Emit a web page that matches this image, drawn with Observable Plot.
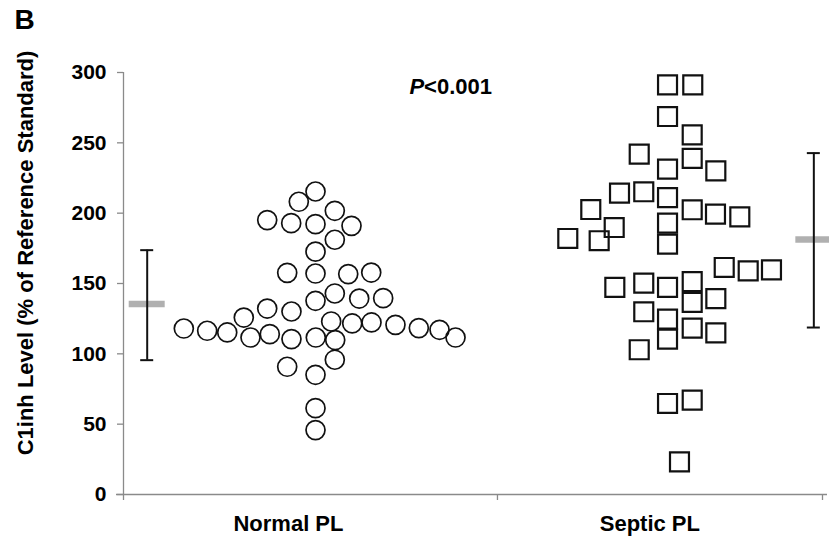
<!DOCTYPE html>
<html>
<head>
<meta charset="utf-8">
<script src="https://cdn.jsdelivr.net/npm/d3@7"></script>
<script src="https://cdn.jsdelivr.net/npm/@observablehq/plot@0.6"></script>
<style>
  html, body { margin: 0; padding: 0; background: #fff; overflow: hidden; }
  #chart svg { display: block; }
</style>
</head>
<body>
<div id="chart"></div>
<script>
// ---- data ----
const categories = ["Normal PL", "Septic PL"];
const categoryPos = [23.6, 75.3];           // position of category label on the 0–100 x scale
const xTicks = [0, 53.5, 100];
const yTicks = [0, 50, 100, 150, 200, 250, 300];
const yLabel = "C1inh Level (% of Reference Standard)";
const panelLabel = "B";
const pLabelItalic = "P";
const pLabelRest = "<0.001";
const pLabelX = 43.0;
const pLabelY = 289.6;

// Normal PL: C1inh level and horizontal (swarm) position
const normalLevel = [215.4, 208.1, 201.7, 195.1, 192.9, 192.2, 191.0, 181.1, 172.7, 157.6,
  157.1, 156.7, 157.8, 142.9, 137.7, 139.3, 139.6, 132.2, 130.1, 125.8,
  123.0, 121.6, 122.3, 118.0, 116.4, 115.2, 111.6, 114.0, 110.5, 111.6,
  109.8, 120.6, 118.3, 117.1, 111.6, 95.8, 90.8, 85.1, 61.4, 45.8];
const normalX = [27.47, 25.08, 30.23, 20.56, 23.99, 27.47, 32.62, 30.23, 27.47, 23.42,
  27.47, 32.15, 35.44, 30.23, 27.47, 33.72, 37.15, 20.56, 24.03, 17.21,
  29.71, 32.72, 35.48, 8.63, 11.97, 14.84, 18.17, 20.93, 24.03, 27.51,
  30.29, 38.91, 42.25, 45.21, 47.50, 30.23, 23.42, 27.47, 27.47, 27.47];

// Septic PL
const septicLevel = [291.2, 291.2, 268.7, 255.7, 242.0, 238.9, 231.3, 230.1, 214.3, 215.2,
  211.1, 202.4, 199.3, 197.4, 202.6, 189.8, 192.9, 178.0, 182.0, 180.4,
  161.4, 159.0, 159.7, 147.2, 150.3, 147.2, 151.4, 136.5, 139.3, 129.9,
  124.7, 110.5, 118.3, 114.9, 102.9, 64.7, 67.1, 23.2];
const septicX = [77.83, 81.44, 77.83, 81.36, 73.78, 81.36, 77.83, 84.74, 70.96, 74.43,
  77.83, 81.36, 84.69, 88.17, 66.85, 70.20, 77.83, 77.83, 63.56, 68.05,
  85.94, 89.37, 92.70, 70.29, 74.43, 77.83, 81.36, 81.36, 84.74, 74.43,
  77.83, 77.83, 81.36, 84.74, 73.78, 77.83, 81.36, 79.54];

// mean ± SD summary bars
const statX = [3.39, 98.76];
const statMean = [135.4, 181.3];
const statLow = [95.5, 118.7];
const statHigh = [173.7, 242.7];

// ---- build tables ----
const normal = normalLevel.map((v, i) => ({x: normalX[i], y: v}));
const septic = septicLevel.map((v, i) => ({x: septicX[i], y: v}));
const stats = statX.map((x, i) => ({x, mean: statMean[i], low: statLow[i], high: statHigh[i]}));
const cats = categories.map((c, i) => ({name: c, x: categoryPos[i]}));

const font = "'Liberation Sans', Arial, Helvetica, sans-serif";
const axisGray = "#8a8a8a";

const chart = Plot.plot({
  width: 829,
  height: 536,
  marginLeft: 123,
  marginRight: 7,
  marginTop: 72,
  marginBottom: 42,
  style: {fontFamily: font, background: "#fff"},
  x: {domain: [0, 100], axis: null},
  y: {domain: [0, 300], axis: null},
  marks: [
    // axes lines
    Plot.ruleX([0], {stroke: axisGray, strokeWidth: 1.3}),
    Plot.ruleY([0], {stroke: axisGray, strokeWidth: 1.3, insetLeft: -7, insetRight: -5}),
    Plot.axisY(yTicks, {tickSize: 6, tickPadding: 11, stroke: axisGray, fill: "black",
      fontSize: 21, fontWeight: "bold", label: null, strokeWidth: 1.3}),
    Plot.axisX(xTicks, {tickSize: 6, tickFormat: () => "", stroke: axisGray, label: null, strokeWidth: 1.3}),
    // category labels
    Plot.text(cats, {x: "x", text: "name", frameAnchor: "bottom", textAnchor: "middle", lineAnchor: "top", dy: 21,
      fontSize: 22, fontWeight: "bold", fill: "black"}),
    // y label
    Plot.text([yLabel], {text: d => d, frameAnchor: "left", textAnchor: "middle", lineAnchor: "middle",
      rotate: -90, dx: -98, dy: -30.5, fontSize: 22, fontWeight: "bold", fill: "black"}),
    // panel label
    Plot.text([panelLabel], {text: d => d, frameAnchor: "top-left", textAnchor: "middle", lineAnchor: "middle",
      dx: -99, dy: -52.5, fontSize: 28, fontWeight: "bold", fill: "black"}),
    // P value
    Plot.text([pLabelItalic], {text: d => d, x: pLabelX, y: pLabelY, textAnchor: "end",
      fontSize: 22, fontWeight: "bold", fontStyle: "italic", fill: "black"}),
    Plot.text([pLabelRest], {text: d => d, x: pLabelX, y: pLabelY, textAnchor: "start",
      fontSize: 22, fontWeight: "bold", fill: "black"}),
    // summary bars: mean (gray), then SD line and caps
    Plot.ruleY(stats, {y: "mean", x1: "x", x2: "x", insetLeft: -18, insetRight: -18,
      stroke: "#b0b0b0", strokeWidth: 6.5}),
    Plot.ruleX(stats, {x: "x", y1: "low", y2: "high", stroke: "#111", strokeWidth: 2}),
    Plot.ruleY(stats, {y: "low", x1: "x", x2: "x", insetLeft: -6.5, insetRight: -6.5, stroke: "#111", strokeWidth: 2}),
    Plot.ruleY(stats, {y: "high", x1: "x", x2: "x", insetLeft: -6.5, insetRight: -6.5, stroke: "#111", strokeWidth: 2}),
    // points
    Plot.dot(normal, {x: "x", y: "y", r: 9.5, stroke: "#111", strokeWidth: 1.7, fill: "none"}),
    Plot.dot(septic, {x: "x", y: "y", symbol: "square", r: 10.7, stroke: "#111", strokeWidth: 2.2, fill: "none"})
  ]
});
document.getElementById("chart").appendChild(chart);
</script>
</body>
</html>
